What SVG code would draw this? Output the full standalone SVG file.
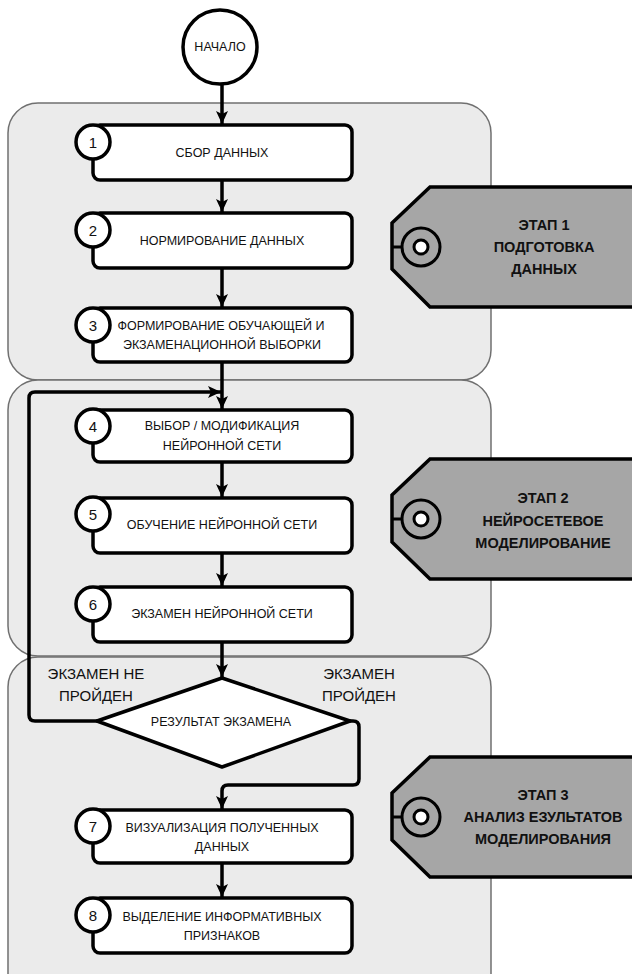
<svg xmlns="http://www.w3.org/2000/svg" width="632" height="974" viewBox="0 0 632 974">
<defs>
<style>
.panel{fill:#ebebeb;stroke:#707070;stroke-width:1.5}
.box{fill:#fff;stroke:#000;stroke-width:3.5}
.num{fill:#fff;stroke:#000;stroke-width:3.5}
.tag{fill:#a6a6a6;stroke:#000;stroke-width:3.5}
.hole{fill:none;stroke:#000;stroke-width:3}
.holein{fill:#fff;stroke:#000;stroke-width:3}
.t{font-family:"Liberation Sans",Arial,sans-serif;font-size:12.5px;fill:#111;text-anchor:middle;dominant-baseline:central}
.n{font-family:"Liberation Sans",Arial,sans-serif;font-size:15px;fill:#111;text-anchor:middle;dominant-baseline:central}
.tt{font-family:"Liberation Sans",Arial,sans-serif;font-size:14.5px;font-weight:bold;fill:#111;text-anchor:middle;dominant-baseline:central}
.lbl{font-family:"Liberation Sans",Arial,sans-serif;font-size:15px;fill:#111;text-anchor:middle;dominant-baseline:central}
.c{fill:none;stroke:#000;stroke-width:3.5;stroke-linejoin:round}
</style>
<marker id="arr" markerUnits="userSpaceOnUse" markerWidth="14" markerHeight="14" viewBox="0 0 14 14" refX="13" refY="7" orient="auto">
<path d="M0,1 L13,7 L0,13 L3,7 z" fill="#000"/>
</marker>
</defs>

<g id="panels">
<rect id="panel1" class="panel" x="8" y="103" width="483" height="277" rx="30"/>
<rect id="panel2" class="panel" x="8" y="380" width="483" height="276" rx="30"/>
<rect id="panel3" class="panel" x="8" y="657" width="483" height="350" rx="30"/>
</g>

<g id="connectors">
<line class="c" x1="222" y1="85" x2="222" y2="124" marker-end="url(#arr)"/>
<line class="c" x1="222" y1="180" x2="222" y2="212" marker-end="url(#arr)"/>
<line class="c" x1="222" y1="268" x2="222" y2="307" marker-end="url(#arr)"/>
<line class="c" x1="222" y1="362" x2="222" y2="409" marker-end="url(#arr)"/>
<line class="c" x1="222" y1="462" x2="222" y2="497" marker-end="url(#arr)"/>
<line class="c" x1="222" y1="553" x2="222" y2="586" marker-end="url(#arr)"/>
<line class="c" x1="222" y1="642" x2="222" y2="677" marker-end="url(#arr)"/>
<path class="c" d="M97,721 L35,721 Q29,721 29,715 L29,398 Q29,392 35,392 L221,392" marker-end="url(#arr)"/>
<path class="c" d="M350,721 L353,721 Q359,721 359,727 L359,779 Q359,785 353,785 L228,785 Q222,785 222,791 L222,809" marker-end="url(#arr)"/>
<line class="c" x1="222" y1="863" x2="222" y2="897" marker-end="url(#arr)"/>
</g>

<g id="start">
<circle cx="220" cy="47" r="37" fill="#fff" stroke="#000" stroke-width="3.5"/>
<text class="t" x="220" y="47">НАЧАЛО</text>
</g>

<g id="node1">
<rect class="box" x="93" y="125" width="259" height="55" rx="7"/>
<circle class="num" cx="93" cy="142" r="17"/>
<text class="n" x="93" y="142">1</text>
<text class="t" x="222" y="153">СБОР ДАННЫХ</text>
</g>

<g id="node2">
<rect class="box" x="93" y="213" width="259" height="55" rx="7"/>
<circle class="num" cx="93" cy="230" r="17"/>
<text class="n" x="93" y="230">2</text>
<text class="t" x="222" y="241">НОРМИРОВАНИЕ ДАННЫХ</text>
</g>

<g id="node3">
<rect class="box" x="93" y="308" width="259" height="54" rx="7"/>
<circle class="num" cx="93" cy="325" r="17"/>
<text class="n" x="93" y="325">3</text>
<text class="t" x="221" y="326">ФОРМИРОВАНИЕ ОБУЧАЮЩЕЙ И</text>
<text class="t" x="222" y="345">ЭКЗАМЕНАЦИОННОЙ ВЫБОРКИ</text>
</g>

<g id="node4">
<rect class="box" x="93" y="410" width="259" height="52" rx="7"/>
<circle class="num" cx="93" cy="426" r="17"/>
<text class="n" x="93" y="426">4</text>
<text class="t" x="222" y="426">ВЫБОР / МОДИФИКАЦИЯ</text>
<text class="t" x="222" y="446">НЕЙРОННОЙ СЕТИ</text>
</g>

<g id="node5">
<rect class="box" x="93" y="498" width="259" height="55" rx="7"/>
<circle class="num" cx="93" cy="514" r="17"/>
<text class="n" x="93" y="514">5</text>
<text class="t" x="222" y="525">ОБУЧЕНИЕ НЕЙРОННОЙ СЕТИ</text>
</g>

<g id="node6">
<rect class="box" x="93" y="587" width="259" height="55" rx="7"/>
<circle class="num" cx="93" cy="604" r="17"/>
<text class="n" x="93" y="604">6</text>
<text class="t" x="222" y="614">ЭКЗАМЕН НЕЙРОННОЙ СЕТИ</text>
</g>

<g id="decision">
<path d="M222,678 L350,721 L222,767 L97,721 z" fill="#fff" stroke="#000" stroke-width="3.5" stroke-linejoin="round"/>
<text class="t" x="221" y="722">РЕЗУЛЬТАТ ЭКЗАМЕНА</text>
</g>

<g id="labels">
<text class="lbl" x="96" y="673">ЭКЗАМЕН НЕ</text>
<text class="lbl" x="96" y="695">ПРОЙДЕН</text>
<text class="lbl" x="359" y="673">ЭКЗАМЕН</text>
<text class="lbl" x="359" y="695">ПРОЙДЕН</text>
</g>

<g id="node7">
<rect class="box" x="93" y="810" width="259" height="53" rx="7"/>
<circle class="num" cx="93" cy="826" r="17"/>
<text class="n" x="93" y="826">7</text>
<text class="t" x="222" y="828">ВИЗУАЛИЗАЦИЯ ПОЛУЧЕННЫХ</text>
<text class="t" x="222" y="847">ДАННЫХ</text>
</g>

<g id="node8">
<rect class="box" x="93" y="898" width="259" height="55" rx="7"/>
<circle class="num" cx="93" cy="915" r="17"/>
<text class="n" x="93" y="915">8</text>
<text class="t" x="222" y="917">ВЫДЕЛЕНИЕ ИНФОРМАТИВНЫХ</text>
<text class="t" x="222" y="936">ПРИЗНАКОВ</text>
</g>

<g id="tag1">
<path class="tag" d="M640,187 L430,187 L392,223 L392,269 L430,307 L640,307 z"/>
<line x1="392" y1="247" x2="402" y2="247" stroke="#000" stroke-width="3"/>
<circle class="hole" cx="421" cy="247" r="19"/>
<circle class="holein" cx="421" cy="247" r="7"/>
<text class="tt" x="544" y="225">ЭТАП 1</text>
<text class="tt" x="544" y="247">ПОДГОТОВКА</text>
<text class="tt" x="544" y="269">ДАННЫХ</text>
</g>

<g id="tag2">
<path class="tag" d="M640,459 L430,459 L392,495 L392,542 L430,579 L640,579 z"/>
<line x1="392" y1="519" x2="402" y2="519" stroke="#000" stroke-width="3"/>
<circle class="hole" cx="421" cy="519" r="19"/>
<circle class="holein" cx="421" cy="519" r="7"/>
<text class="tt" x="543" y="498">ЭТАП 2</text>
<text class="tt" x="543" y="521">НЕЙРОСЕТЕВОЕ</text>
<text class="tt" x="543" y="543">МОДЕЛИРОВАНИЕ</text>
</g>

<g id="tag3">
<path class="tag" d="M640,757 L430,757 L392,793 L392,840 L430,877 L640,877 z"/>
<line x1="392" y1="817" x2="402" y2="817" stroke="#000" stroke-width="3"/>
<circle class="hole" cx="421" cy="817" r="19"/>
<circle class="holein" cx="421" cy="817" r="7"/>
<text class="tt" x="543" y="795">ЭТАП 3</text>
<text class="tt" x="543" y="817">АНАЛИЗ ЕЗУЛЬТАТОВ</text>
<text class="tt" x="543" y="839">МОДЕЛИРОВАНИЯ</text>
</g>
</svg>
